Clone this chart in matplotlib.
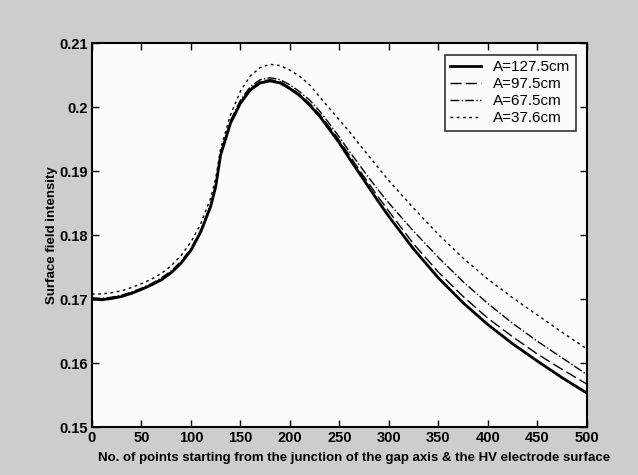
import matplotlib
matplotlib.use("Agg")
import matplotlib.pyplot as plt

x = [0, 10, 20, 30, 40, 50, 60, 70, 80, 90, 100, 110, 120, 125, 130, 140, 150, 160,
     170, 180, 190, 200, 210, 220, 230, 240, 250, 260, 270, 280, 290, 300, 325, 350,
     375, 400, 425, 450, 475, 500]

a1275 = [0.1700, 0.1699, 0.1701, 0.1704, 0.1709, 0.1715, 0.1722, 0.1730, 0.1741, 0.1756,
         0.1776, 0.1805, 0.1845, 0.1875, 0.1925, 0.1975, 0.2006, 0.2027, 0.2038, 0.2041,
         0.2038, 0.2029, 0.2018, 0.2003, 0.1986, 0.1965, 0.1944, 0.1920, 0.1897, 0.1874,
         0.1851, 0.1829, 0.1778, 0.1733, 0.1694, 0.1660, 0.1630, 0.1603, 0.1577, 0.1553]

a975 = [0.1701, 0.1700, 0.1702, 0.1705, 0.1710, 0.1716, 0.1723, 0.1731, 0.1742, 0.1757,
        0.1777, 0.1806, 0.1846, 0.1876, 0.1926, 0.1977, 0.2008, 0.2029, 0.2040, 0.2043,
        0.2040, 0.2031, 0.2020, 0.2006, 0.1989, 0.1969, 0.1948, 0.1925, 0.1902, 0.1880,
        0.1858, 0.1837, 0.1786, 0.1742, 0.1704, 0.1670, 0.1641, 0.1614, 0.1590, 0.1567]

a675 = [0.1702, 0.1701, 0.1703, 0.1706, 0.1711, 0.1717, 0.1724, 0.1733, 0.1744, 0.1759,
        0.1779, 0.1808, 0.1848, 0.1878, 0.1928, 0.1979, 0.2011, 0.2032, 0.2043, 0.2046,
        0.2043, 0.2035, 0.2024, 0.2011, 0.1994, 0.1974, 0.1953, 0.1931, 0.1910, 0.1889,
        0.1869, 0.1850, 0.1806, 0.1765, 0.1727, 0.1693, 0.1662, 0.1634, 0.1608, 0.1582]

a376 = [0.1708, 0.1708, 0.1710, 0.1713, 0.1718, 0.1724, 0.1731, 0.1740, 0.1752, 0.1768,
        0.1789, 0.1818, 0.1858, 0.1888, 0.1935, 0.1988, 0.2025, 0.2049, 0.2062, 0.2067,
        0.2065, 0.2058, 0.2048, 0.2035, 0.2016, 0.1998, 0.1980, 0.1962, 0.1942, 0.1923,
        0.1904, 0.1885, 0.1842, 0.1801, 0.1764, 0.1731, 0.1702, 0.1675, 0.1648, 0.1622]

labels = ["A=127.5cm", "A=97.5cm", "A=67.5cm", "A=37.6cm"]
xticks = [0, 50, 100, 150, 200, 250, 300, 350, 400, 450, 500]
yticks = [0.15, 0.16, 0.17, 0.18, 0.19, 0.20, 0.21]
yticklabels = ["0.15", "0.16", "0.17", "0.18", "0.19", "0.2", "0.21"]

plt.rcParams['font.family'] = ['Liberation Sans', 'DejaVu Sans']

fig = plt.figure(figsize=(6.38, 4.75), dpi=100, facecolor='#cdcdcd')
ax = fig.add_axes([0.144, 0.101, 0.776, 0.808])
ax.set_facecolor('#fbfbfb')

ax.plot(x, a1275, color='black', lw=2.0, ls='-', label=labels[0])
ax.plot(x, a975, color='black', lw=1.0, ls=(0, (8, 3)), label=labels[1])
ax.plot(x, a675, color='black', lw=1.0, ls='-.', label=labels[2])
ax.plot(x, a376, color='black', lw=1.0, ls=(0, (2, 2.5)), label=labels[3])

ax.set_xlim(0, 500)
ax.set_ylim(0.15, 0.21)
ax.set_xticks(xticks)
ax.set_xticklabels([str(v) for v in xticks], fontweight='bold')
ax.set_yticks(yticks)
ax.set_yticklabels(yticklabels, fontweight='bold')
ax.tick_params(direction='in', top=True, right=True, length=5, width=1,
               labelsize=10.5, colors='black', pad=3)
for s in ax.spines.values():
    s.set_linewidth(1.5)
    s.set_color('black')

ax.set_xlabel("No. of points starting from the junction of the gap axis & the HV electrode surface",
              fontsize=9.5, fontweight='bold', labelpad=4)
ax.xaxis.set_label_coords(0.53, -0.065)
ax.set_ylabel("Surface field intensity", fontsize=9.5, fontweight='bold', labelpad=1)

leg = ax.legend(loc='upper right', fontsize=11, frameon=True, fancybox=False,
                edgecolor='black', handlelength=2.0, handletextpad=0.8,
                borderpad=0.35, labelspacing=0.2, borderaxespad=0.75)
leg.get_frame().set_linewidth(1.2)
leg.get_frame().set_facecolor('#fbfbfb')

fig.savefig("out.png", dpi=100, facecolor=fig.get_facecolor())
